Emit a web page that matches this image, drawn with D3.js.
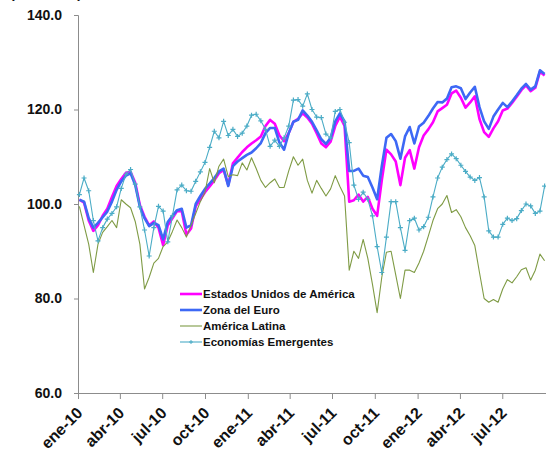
<!DOCTYPE html>
<html>
<head>
<meta charset="utf-8">
<script src="https://d3js.org/d3.v7.min.js"></script>
<style>
  body { margin: 0; background: #fff; }
  text { font-family: "Liberation Sans", Arial, sans-serif; font-weight: bold; }
</style>
</head>
<body>
<svg id="chart" width="546" height="451"></svg>
<script>
// series, one value every 10 days from 4 Jan 2010 (index 2010 = 100)
var usa = [100.9,100.3,96.5,94.3,95.5,97.5,99,101.5,103.8,105.3,106.6,106.8,104.5,99.8,97.3,95.5,96.3,95,91.3,95.5,
  97,98.5,98.5,93.5,94.8,99.5,101,102.5,103.7,105,106.5,107.2,104,108.6,109.8,111,112,112.8,113.5,114.3,
  116.5,117.8,117,114.5,113.3,115,117.4,118,119.2,118.3,117,115,112.8,112,113.2,116.5,118.5,116.5,100.5,100.8,
  102,100.5,101.5,99,97.5,105,111.5,110.5,109,104,109.8,111.4,107.5,112,114.5,115.8,117.3,119.6,120.3,121,
  123.4,124,122.5,120.4,121.5,122.8,118,115.2,114.2,116,117.5,119.8,120.2,121.4,122.7,124.1,125.1,123.9,124.6,128,127.2];
var euro = [100.9,100.5,97,95,96,97.2,98.4,100.5,103,104.8,106,106.5,104,99.4,97,95.3,96,95.5,92.5,96.2,
  97.5,98.7,99,95,95.5,100,101.7,103.2,104.3,105.5,106.9,107.5,103.8,108,109,109.7,110.4,110.9,111.8,112.9,
  115,116.1,116.1,113,111.5,115,117.4,117.8,119.8,118.7,117.4,115.6,113.7,112.7,114,117.5,119.2,117.5,107,107,
  107.5,106,105.7,103.5,101,108,114,114.8,113.3,109.6,114.3,116.3,112.8,116.4,117.2,118.6,120.2,121.6,121.5,122.3,
  124.7,124.9,124.5,122.2,123.6,124.8,120.5,117.5,115.9,118.5,120,121.4,120.5,121.7,123,124.4,125.4,124.2,124.9,128.3,127.5];
var latam = [99.5,95.5,91.5,85.5,91.5,94,95.2,96.5,95,100.9,100,99.2,96.3,91.5,82,84.5,87.5,88.5,91,92,
  94.2,96.6,95,93,95.5,98,100.5,102.5,107.5,104.5,108,109.5,105.8,106.2,106,108.7,107.2,109.8,107.5,105,
  103.5,104.5,105.3,103.5,103.5,107,110,108.2,109.5,105,102.3,105,103.3,101.7,103.2,106,103.7,101.7,86,90,
  88.5,92.5,88.5,83,77,84.5,89.8,90,85,80,86,86,85.5,87.5,90,93.2,96.5,99,100,101.8,
  98.2,98.8,97.3,95,93.3,91.2,85.5,80,79.2,79.8,79.2,82,84,83.3,84.6,86.1,86.5,83.9,86,89.4,88];
var emerg = [102,105.5,102.8,96.5,92.2,95,96.8,98,99.4,103.3,106.3,107.3,104.2,99.4,94.5,89,95,99.5,98.5,92,
  97.5,103,104,102.8,102.7,104.8,106.8,108.8,112,115.4,114,117.5,114.5,115.8,114.3,115,116.5,118.8,119,117.6,
  115.8,112.2,113.5,112.2,114,116.5,122,122.1,120.7,123.3,120,118.4,118.3,114.8,114,119.6,120,117.3,113,104,
  101,102.5,101,97.5,91,85.5,93,100.5,100.5,95,90.2,96.5,97,94.5,95.2,97.2,101.5,105.5,107.8,109.4,
  110.6,109.6,108.2,106.9,105.7,105,105.6,101.5,94.3,93,93,95.7,97,96.5,96.9,98.6,100,99.6,98,98.5,103.8];

var seriesNames = ["Estados Unidos de América", "Zona del Euro", "América Latina", "Economías Emergentes"];
var yTicks = [60, 80, 100, 120, 140];
var xTickLabels = ["ene-10","abr-10","jul-10","oct-10","ene-11","abr-11","jul-11","oct-11","ene-12","abr-12","jul-12"];

var start = new Date(2010, 0, 4);
var dates = d3.range(euro.length).map(function(i) { return d3.timeDay.offset(start, i * 10); });

var svg = d3.select("#chart");

var x = d3.scaleTime()
    .domain([new Date(2010, 0, 1), new Date(2012, 9, 3)])
    .range([78, 546]);
var y = d3.scaleLinear().domain([60, 140]).range([393, 15]);

var styles = [
  { data: usa,   color: "#ff00ff", width: 2.6 },
  { data: euro,  color: "#3d68f5", width: 2.6 },
  { data: latam, color: "#7f9b45", width: 1.1 },
  { data: emerg, color: "#4bacc6", width: 1.1, marker: true }
];

// y axis
var yAxis = svg.append("g").attr("transform", "translate(78,0)")
  .call(d3.axisLeft(y).tickValues(yTicks).tickSize(4).tickPadding(12).tickFormat(d3.format(".1f")));
yAxis.select(".domain").attr("stroke", "#8c8c8c");
yAxis.selectAll(".tick line").attr("stroke", "#8c8c8c");
yAxis.selectAll("text").attr("font-size", 14).attr("fill", "#111");

// x axis
var xTicks = d3.timeMonth.every(3).range(new Date(2010, 0, 1), new Date(2012, 7, 1));
var xAxis = svg.append("g").attr("transform", "translate(0,393)")
  .call(d3.axisBottom(x).tickValues(xTicks).tickSize(6).tickSizeOuter(0)
    .tickFormat(function(d, i) { return xTickLabels[i]; }));
xAxis.select(".domain").attr("stroke", "#8c8c8c");
xAxis.selectAll(".tick line").attr("stroke", "#8c8c8c");
xAxis.selectAll("text")
  .attr("font-size", 16).attr("fill", "#111")
  .attr("text-anchor", "end")
  .attr("x", 0).attr("y", 0).attr("dy", 0)
  .attr("transform", "translate(5,21) rotate(-45)");

// title cut off at the very top, as in the source picture
svg.append("text").attr("x", 10).attr("y", -2).attr("font-size", 14).attr("fill", "#111")
  .text("(2010=100)");

var line = d3.line()
  .x(function(d, i) { return x(dates[i]); })
  .y(function(d) { return y(d); });

styles.forEach(function(s) {
  svg.append("path")
    .datum(s.data)
    .attr("fill", "none")
    .attr("stroke", s.color)
    .attr("stroke-width", s.width)
    .attr("stroke-linejoin", "round")
    .attr("d", line);
  if (s.marker) {
    svg.append("g").selectAll("path")
      .data(s.data)
      .enter().append("path")
      .attr("d", "M-2.5,0H2.5M0,-2.5V2.5")
      .attr("stroke", s.color)
      .attr("stroke-width", 1.2)
      .attr("transform", function(d, i) { return "translate(" + x(dates[i]) + "," + y(d) + ")"; });
  }
});

// legend
var legend = svg.append("g").attr("transform", "translate(180,294)");
styles.forEach(function(s, i) {
  var row = legend.append("g").attr("transform", "translate(0," + (i * 16) + ")");
  row.append("line").attr("x1", 0).attr("x2", 22).attr("y1", 0).attr("y2", 0)
    .attr("stroke", s.color).attr("stroke-width", s.width);
  if (s.marker) {
    row.append("path").attr("d", "M9,0H13M11,-2V2").attr("stroke", s.color).attr("stroke-width", 1);
  }
  row.append("text").attr("x", 23).attr("y", 4).attr("font-size", 11.5).attr("fill", "#111")
    .text(seriesNames[i]);
});
</script>
</body>
</html>
